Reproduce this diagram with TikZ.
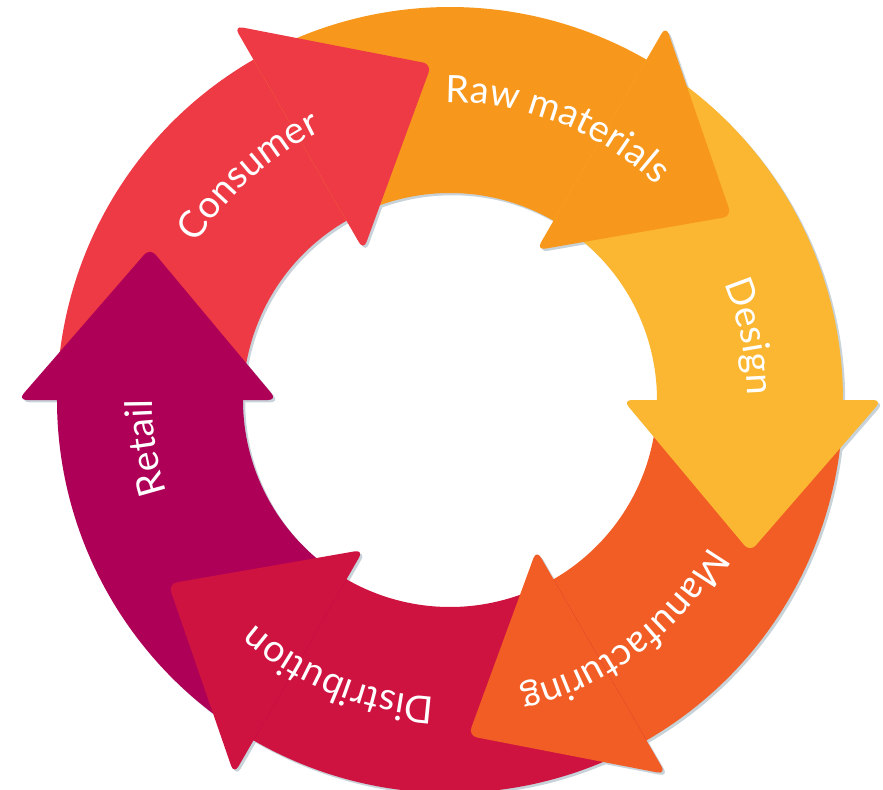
\documentclass[tikz,border=0pt]{standalone}
\usepackage{fontspec}
\setmainfont{Lato}
\usetikzlibrary{calc,decorations.text}
\definecolor{raworange}{HTML}{F7981D}
\definecolor{designyellow}{HTML}{FBB731}
\definecolor{makeorange}{HTML}{F15D24}
\definecolor{shipred}{HTML}{CF1340}
\definecolor{shopplum}{HTML}{AF0058}
\definecolor{userred}{HTML}{EE3A45}
\definecolor{ringshade}{HTML}{C8D2D9}
\newcommand\ringfont{\fontsize{21.5}{24}\selectfont\color{white}}

\begin{document}
\begin{tikzpicture}[
    head/.style={rounded corners=5pt},
    ringtext/.style={decorate,decoration={text along path,text align=center,
      text={|\ringfont|#1}}}]
  \useasboundingbox (-9,-7.78) rectangle (8.66,8);

  % thin shade under ring and heads
  \begin{scope}[shift={(.045,-.045)}]
    \fill[ringshade,even odd rule] (0,0) circle[radius=7.86] (0,0) circle[radius=4.14];
    \foreach \a in {120,60,0,-60,-120,180}
      \fill[ringshade,head] (\a:3.46) -- (\a:8.64) -- ($(\a:6)+(\a-90:3.04)$) -- cycle;
  \end{scope}

  % ring pieces, each running clockwise from \a
  \foreach \a/\c in {180/userred,120/raworange,60/designyellow,0/makeorange,-60/shipred,-120/shopplum}
    \fill[\c] (\a:7.86) arc[start angle=\a,end angle=\a-61,radius=7.86]
      -- (\a-61:4.14) arc[start angle=\a-61,end angle=\a,radius=4.14] -- cycle;

  % arrow heads on top
  \foreach \a/\c in {120/userred,60/raworange,0/designyellow,-60/makeorange,-120/shipred,180/shopplum}
    \fill[\c,head] (\a:3.46) -- (\a:8.64) -- ($(\a:6)+(\a-90:3.04)$) -- cycle;

  % labels
  \path[ringtext=Raw materials] (103.5:5.95) arc[start angle=103.5,end angle=33.5,radius=5.95];
  \path[ringtext=Design] (47:5.95) arc[start angle=47,end angle=-23,radius=5.95];
  \path[ringtext=Manufacturing] (-18:5.95) arc[start angle=-18,end angle=-88,radius=5.95];
  \path[ringtext=Distribution] (-77:5.95) arc[start angle=-77,end angle=-147,radius=5.95];
  \path[ringtext=Retail] (-136:5.95) arc[start angle=-136,end angle=-206,radius=5.95];
  \path[ringtext=Consumer] (167:5.95) arc[start angle=167,end angle=97,radius=5.95];
\end{tikzpicture}
\end{document}
